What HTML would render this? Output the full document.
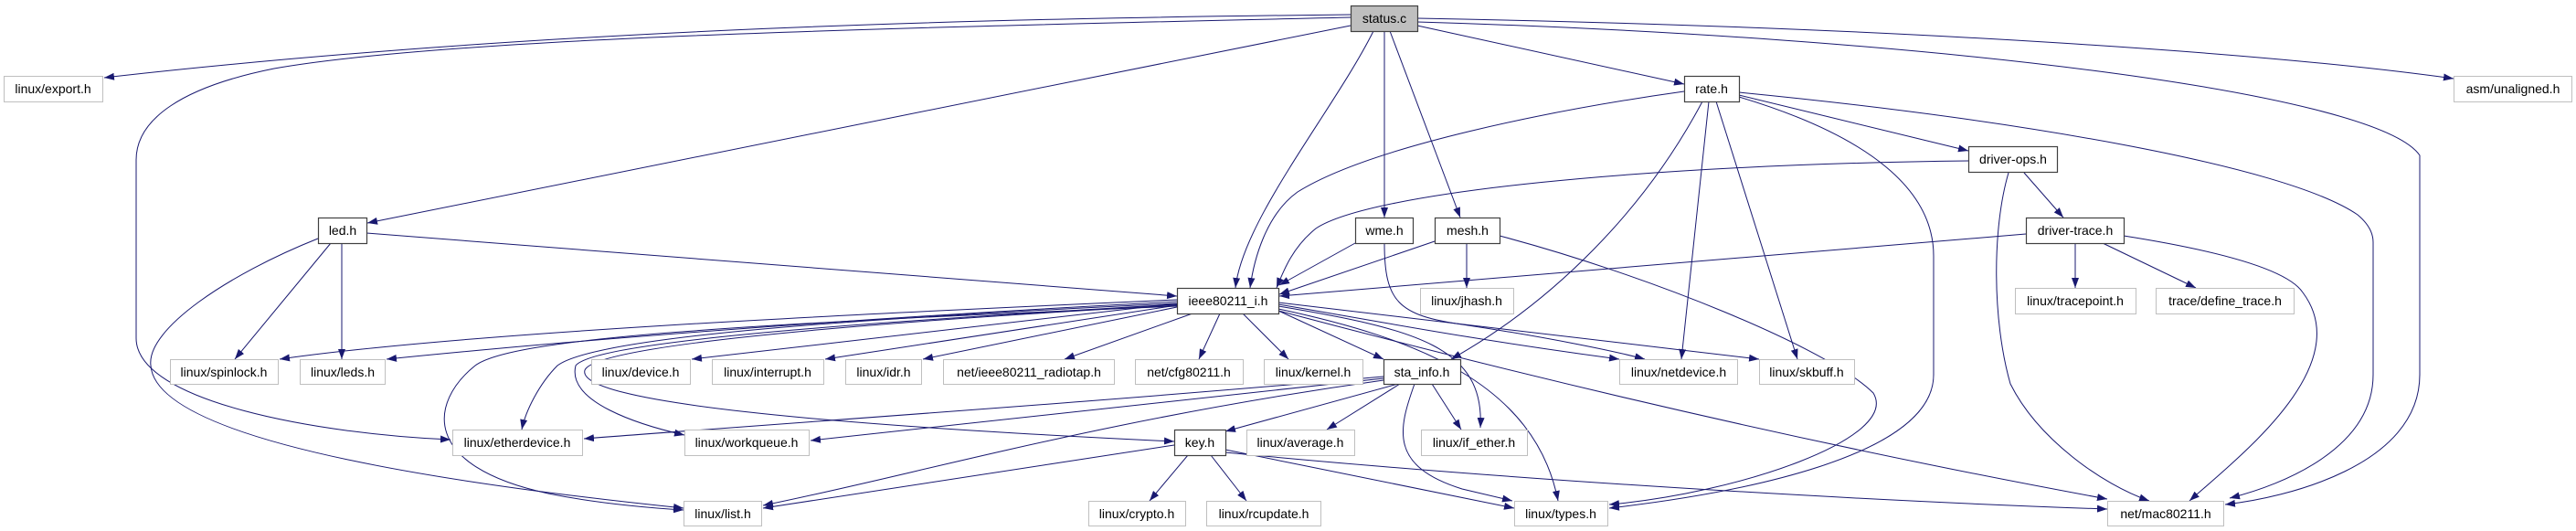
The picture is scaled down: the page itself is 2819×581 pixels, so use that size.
<!DOCTYPE html>
<html><head><meta charset="utf-8"><style>
html,body{margin:0;padding:0;background:#fff;}
svg{display:block;}
text{font-family:"Liberation Sans",sans-serif;font-size:14px;fill:#000;}
</style></head><body>
<svg width="2819" height="581" viewBox="0 0 2819 581" xmlns="http://www.w3.org/2000/svg">
<defs>
<marker id="a" markerWidth="11" markerHeight="8" refX="11" refY="4" orient="auto" markerUnits="userSpaceOnUse">
<path d="M0,0 L11,4 L0,8 z" fill="#191970"/>
</marker>
</defs>
<g fill="none" stroke="#191970" stroke-width="1" marker-end="url(#a)">
<!-- status.c -->
<path d="M1478,16 C1100,20 600,30 114,85"/>
<path d="M1478,19 C1000,30 500,40 300,75 C200,95 149,130 149,175 L149,370 C149,440 350,475 493,481"/>
<path d="M1478,28 L402,244"/>
<path d="M1503,34 C1460,120 1360,240 1352,315"/>
<path d="M1515,34 L1515,238"/>
<path d="M1521,34 L1598,238"/>
<path d="M1551,28 L1843,92"/>
<path d="M1551,20 C2100,30 2500,60 2685,86"/>
<path d="M1551,24 C2100,40 2600,100 2648,170 L2648,410 C2648,510 2500,545 2435,552"/>
<!-- rate.h -->
<path d="M1843,100 C1700,120 1500,160 1420,210 C1385,235 1372,285 1368,315"/>
<path d="M1863,111 C1800,230 1700,330 1588,393"/>
<path d="M1870,111 L1840,393"/>
<path d="M1878,111 L1967,393"/>
<path d="M1903,104 L2154,165"/>
<path d="M1903,101 C2200,130 2500,180 2580,235 C2592,245 2597,255 2597,265 L2597,410 C2597,490 2500,530 2440,545"/>
<path d="M1903,106 C2050,150 2116,210 2116,280 L2116,410 C2116,500 1900,540 1761,556"/>
<!-- driver-ops.h -->
<path d="M2154,176 C1800,180 1500,210 1440,250 C1415,270 1405,295 1397,315"/>
<path d="M2215,189 L2258,238"/>
<path d="M2198,189 C2180,250 2180,350 2200,420 C2230,480 2300,530 2352,548"/>
<!-- driver-trace.h -->
<path d="M2217,256 L1400,324"/>
<path d="M2271,266 L2271,315"/>
<path d="M2301,266 L2403,315"/>
<path d="M2324,258 C2400,270 2500,290 2520,320 C2580,400 2450,500 2396,548"/>
<!-- led.h -->
<path d="M362,266 L257,393"/>
<path d="M374,266 L374,393"/>
<path d="M401,255 L1288,324"/>
<path d="M348,261 C250,300 160,360 165,400 C170,470 400,520 748,556"/>
<!-- wme.h -->
<path d="M1483,266 L1400,312"/>
<path d="M1515,266 C1515,330 1530,345 1600,355 C1700,370 1770,385 1800,393"/>
<!-- mesh.h -->
<path d="M1570,264 L1400,322"/>
<path d="M1605,266 L1605,315"/>
<path d="M1641,258 C1800,300 2000,380 2050,430 C2080,480 1900,540 1761,552"/>
<!-- ieee80211_i.h -->
<path d="M1288,328 C900,345 500,365 306,393"/>
<path d="M1288,330 C900,350 600,375 423,393"/>
<path d="M1288,332 L757,393"/>
<path d="M1288,334 L903,393"/>
<path d="M1288,336 L1010,393"/>
<path d="M1305,343 L1165,393"/>
<path d="M1335,343 L1312,393"/>
<path d="M1360,343 L1410,393"/>
<path d="M1399,340 L1514,393"/>
<path d="M1399,333 C1500,350 1600,370 1772,393"/>
<path d="M1399,331 L1925,393"/>
<path d="M1288,332 C900,350 650,370 610,400 C590,420 575,450 571,470"/>
<path d="M1288,333 C900,355 650,375 630,400 C620,440 700,465 749,476"/>
<path d="M1288,334 C900,355 650,380 640,405 C630,440 900,465 1285,483"/>
<path d="M1288,335 C800,355 560,370 520,400 C470,440 460,510 600,540 C650,550 700,555 748,558"/>
<path d="M1399,335 C1550,360 1625,380 1620,468"/>
<path d="M1399,338 C1550,370 1680,420 1705,548"/>
<path d="M1399,340 C1700,420 2000,490 2306,546"/>
<!-- sta_info.h -->
<path d="M1514,412 C1200,440 900,460 639,480"/>
<path d="M1514,414 L887,482"/>
<path d="M1530,420 L1341,472"/>
<path d="M1532,420 L1452,470"/>
<path d="M1567,420 L1599,470"/>
<path d="M1548,420 C1530,470 1520,510 1600,535 L1655,548"/>
<path d="M1514,416 C1200,460 1000,520 835,553"/>
<!-- key.h -->
<path d="M1285,487 L835,556"/>
<path d="M1300,498 L1258,548"/>
<path d="M1325,498 L1364,548"/>
<path d="M1341,492 L1657,556"/>
<path d="M1341,495 C1700,530 2100,550 2306,557"/>
</g>
<g text-anchor="middle">
<rect x="1478.5" y="6.5" width="73" height="28" fill="#bfbfbf" stroke="#404040" stroke-width="1.2"/><text x="1515" y="25">status.c</text>
<g fill="#fff" stroke="#404040" stroke-width="1.2">
<rect x="1843.5" y="83.5" width="60" height="28"/>
<rect x="2154.5" y="160.5" width="97" height="28"/>
<rect x="348.5" y="238.5" width="53" height="28"/>
<rect x="1483.5" y="238.5" width="63" height="28"/>
<rect x="1570.5" y="238.5" width="71" height="28"/>
<rect x="2217.5" y="238.5" width="107" height="28"/>
<rect x="1288.5" y="315.5" width="111" height="28"/>
<rect x="1514.5" y="393.5" width="84" height="27"/>
<rect x="1285.5" y="470.5" width="56" height="28"/>
</g>
<g fill="#fff" stroke="#bfbfbf" stroke-width="1">
<rect x="4.5" y="83.5" width="108" height="28"/>
<rect x="2685.5" y="83.5" width="129" height="28"/>
<rect x="1554.5" y="315.5" width="102" height="28"/>
<rect x="2205.5" y="315.5" width="132" height="28"/>
<rect x="2359.5" y="315.5" width="151" height="28"/>
<rect x="186.5" y="393.5" width="118" height="27"/>
<rect x="328.5" y="393.5" width="93" height="27"/>
<rect x="647.5" y="393.5" width="108" height="27"/>
<rect x="779.5" y="393.5" width="122" height="27"/>
<rect x="925.5" y="393.5" width="83" height="27"/>
<rect x="1032.5" y="393.5" width="187" height="27"/>
<rect x="1242.5" y="393.5" width="118" height="27"/>
<rect x="1383.5" y="393.5" width="108" height="27"/>
<rect x="1772.5" y="393.5" width="129" height="27"/>
<rect x="1925.5" y="393.5" width="104" height="27"/>
<rect x="495.5" y="470.5" width="142" height="28"/>
<rect x="749.5" y="470.5" width="136" height="28"/>
<rect x="1364.5" y="470.5" width="118" height="28"/>
<rect x="1555.5" y="470.5" width="116" height="28"/>
<rect x="748.5" y="548.5" width="85" height="27"/>
<rect x="1191.5" y="548.5" width="106" height="27"/>
<rect x="1320.5" y="548.5" width="125" height="27"/>
<rect x="1657.5" y="548.5" width="102" height="27"/>
<rect x="2306.5" y="548.5" width="127" height="27"/>
</g>
<text x="1873" y="102">rate.h</text>
<text x="2203" y="179">driver-ops.h</text>
<text x="375" y="257">led.h</text>
<text x="1515" y="257">wme.h</text>
<text x="1606" y="257">mesh.h</text>
<text x="2271" y="257">driver-trace.h</text>
<text x="1344" y="334">ieee80211_i.h</text>
<text x="1556" y="412">sta_info.h</text>
<text x="1313" y="489">key.h</text>
<text x="58" y="102">linux/export.h</text>
<text x="2750" y="102">asm/unaligned.h</text>
<text x="1605" y="334">linux/jhash.h</text>
<text x="2271" y="334">linux/tracepoint.h</text>
<text x="2435" y="334">trace/define_trace.h</text>
<text x="245" y="412">linux/spinlock.h</text>
<text x="375" y="412">linux/leds.h</text>
<text x="701" y="412">linux/device.h</text>
<text x="840" y="412">linux/interrupt.h</text>
<text x="967" y="412">linux/idr.h</text>
<text x="1126" y="412">net/ieee80211_radiotap.h</text>
<text x="1301" y="412">net/cfg80211.h</text>
<text x="1437" y="412">linux/kernel.h</text>
<text x="1837" y="412">linux/netdevice.h</text>
<text x="1977" y="412">linux/skbuff.h</text>
<text x="566" y="489">linux/etherdevice.h</text>
<text x="817" y="489">linux/workqueue.h</text>
<text x="1423" y="489">linux/average.h</text>
<text x="1613" y="489">linux/if_ether.h</text>
<text x="791" y="567">linux/list.h</text>
<text x="1244" y="567">linux/crypto.h</text>
<text x="1383" y="567">linux/rcupdate.h</text>
<text x="1708" y="567">linux/types.h</text>
<text x="2370" y="567">net/mac80211.h</text>
</g>
</svg>
</body></html>
